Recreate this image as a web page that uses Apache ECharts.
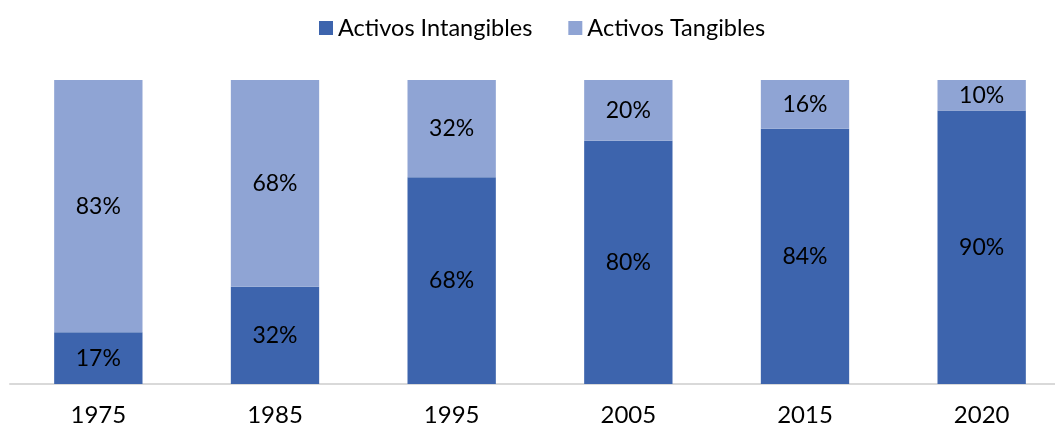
<!DOCTYPE html>
<html>
<head>
<meta charset="utf-8">
<script src="https://cdn.jsdelivr.net/npm/echarts@6/dist/echarts.min.js"></script>
<style>
  html, body { margin: 0; padding: 0; background: #fff; overflow: hidden; }
  #chart { width: 1075px; height: 429px; }
</style>
</head>
<body>
<div id="chart"></div>
<script>
const years = ['1975', '1985', '1995', '2005', '2015', '2020'];
const intangibles = [17, 32, 68, 80, 84, 90];
const tangibles = [83, 68, 32, 20, 16, 10];

// el área de dibujo es un poco más ancha que la ventana; el borde derecho queda recortado
const chart = echarts.init(document.getElementById('chart'));
const font = 'Lato, "DejaVu Sans", sans-serif';

const label = {
    show: true,
    position: 'inside',
    formatter: p => p.value + '%',
    color: '#000',
    fontSize: 23,
    fontFamily: font
};

chart.setOption({
    animation: false,
    legend: {
        top: 11,
        left: 314,
        itemWidth: 14,
        itemHeight: 14,
        itemGap: 36,
        icon: 'rect',
        textStyle: { fontSize: 23.5, fontFamily: font, color: '#000' }
    },
    grid: { left: 10, top: 80, right: 5, height: 304 },
    xAxis: {
        type: 'category',
        data: years,
        axisLine: { lineStyle: { color: '#d9d9d9', width: 2 } },
        axisTick: { show: false },
        axisLabel: { fontSize: 24, fontFamily: font, color: '#000', margin: 19 }
    },
    yAxis: {
        type: 'value',
        min: 0,
        max: 100,
        show: false
    },
    series: [
        {
            name: 'Activos Intangibles',
            type: 'bar',
            stack: 'total',
            barWidth: '50%',
            data: intangibles,
            itemStyle: { color: '#3d64ad' },
            label: label
        },
        {
            name: 'Activos Tangibles',
            type: 'bar',
            stack: 'total',
            barWidth: '50%',
            data: tangibles,
            itemStyle: { color: '#8fa4d4' },
            label: label
        }
    ]
});
</script>
</body>
</html>
